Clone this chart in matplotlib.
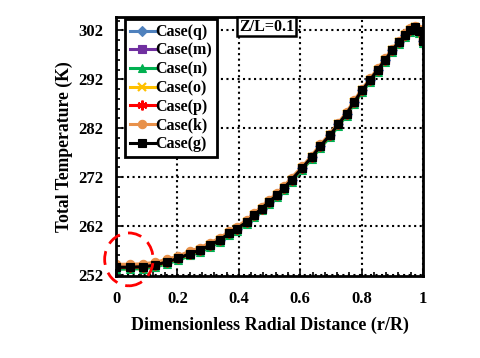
import matplotlib
matplotlib.use("Agg")
import matplotlib.pyplot as plt
from matplotlib.patches import Ellipse
from matplotlib.ticker import AutoMinorLocator

plt.rcParams['font.family'] = ['Liberation Serif', 'DejaVu Serif']
plt.rcParams['font.weight'] = 'bold'

# ---- data ----
r = [0.0, 0.046, 0.087, 0.127, 0.165, 0.203, 0.241, 0.274, 0.306, 0.339,
     0.368, 0.395, 0.426, 0.451, 0.474, 0.499, 0.523, 0.546, 0.572, 0.607,
     0.637, 0.666, 0.697, 0.724, 0.751, 0.776, 0.802, 0.828, 0.853, 0.877,
     0.899, 0.921, 0.941, 0.958, 0.974, 0.988, 1.0]
T_base = [253.6, 253.6, 253.7, 254.0, 254.7, 255.4, 256.4, 257.1, 258.1, 259.2,
          260.5, 261.5, 262.9, 264.3, 265.6, 267.0, 268.3, 269.7, 271.5, 273.9,
          276.1, 278.4, 280.6, 282.8, 285.0, 287.4, 289.8, 291.9, 294.0, 296.0,
          297.9, 299.6, 301.0, 302.0, 302.6, 301.8, 299.8]
T_k = [254.2, 254.2, 254.3, 254.6, 255.2, 255.9, 256.9, 257.6, 258.6, 259.6,
       260.9, 261.9, 263.3, 264.7, 266.0, 267.4, 268.7, 270.1, 271.9, 274.2,
       276.4, 278.7, 280.9, 283.1, 285.3, 287.7, 290.1, 292.2, 294.3, 296.3,
       298.2, 299.9, 301.4, 302.4, 303.0, 302.2, 300.1]
T_n = [253.2, 253.2, 253.3, 253.6, 254.3, 255.0, 256.0, 256.7, 257.7, 258.8,
       260.1, 261.1, 262.5, 263.9, 265.2, 266.6, 267.9, 269.3, 271.1, 273.5,
       275.7, 278.0, 280.2, 282.4, 284.6, 287.0, 289.4, 291.5, 293.6, 295.6,
       297.5, 299.2, 300.6, 301.6, 302.2, 301.4, 299.4]
T_q = T_base
T_m = T_base
T_o = T_base
T_p = T_base
T_g = T_base

labels = ['Case(q)', 'Case(m)', 'Case(n)', 'Case(o)', 'Case(p)', 'Case(k)', 'Case(g)']
series = [T_q, T_m, T_n, T_o, T_p, T_k, T_g]
colors = ['#4f81bd', '#7030a0', '#00b050', '#ffc000', '#ff0000', '#e8914a', '#000000']
markers = ['D', 's', '^', 'x', (6, 2, 0), 'o', 's']
msizes = [5, 6, 6, 6, 7, 6, 5.5]

x_ticks = [0, 0.2, 0.4, 0.6, 0.8, 1]
x_ticklabels = ['0', '0.2', '0.4', '0.6', '0.8', '1']
y_ticks = [252, 262, 272, 282, 292, 302]

fig = plt.figure(figsize=(4.8, 3.58), dpi=100)
ax = fig.add_axes([0.2417, 0.229, 0.6396, 0.7243])

for T, lab, c, mk, ms in zip(series, labels, colors, markers, msizes):
    ax.plot(r, T, color=c, marker=mk, markersize=ms, linewidth=2.2,
            markeredgewidth=1.6 if mk in ('x', (6, 2, 0)) else 0.8,
            markeredgecolor=c, label=lab)

ax.set_xlim(0, 1)
ax.set_ylim(251.8, 304.8)
ax.set_xticks(x_ticks)
ax.set_xticklabels(x_ticklabels)
ax.set_yticks(y_ticks)
ax.xaxis.set_minor_locator(AutoMinorLocator(5))
ax.yaxis.set_minor_locator(AutoMinorLocator(5))
ax.tick_params(which='both', direction='in', top=False, right=False,
               labelsize=12, width=1.2)
ax.tick_params(which='major', length=5)
ax.tick_params(which='minor', length=3)
ax.tick_params(axis='y', pad=9)
ax.tick_params(axis='x', pad=11)
for lbl in ax.get_xticklabels() + ax.get_yticklabels():
    lbl.set_fontweight('bold')

ax.grid(True, which='major', color='black', linestyle=':', linewidth=1.5)
for s in ax.spines.values():
    s.set_linewidth(2)

ax.set_xlabel('Dimensionless Radial Distance (r/R)', fontsize=13,
              fontweight='bold', labelpad=7)
ax.set_ylabel('Total Temperature (K)', fontsize=12.7, fontweight='bold',
              labelpad=4)

leg = ax.legend(loc='upper left', bbox_to_anchor=(0.03, 0.99), fontsize=11.5,
                frameon=True, fancybox=False, handlelength=1.55,
                handletextpad=0.05, labelspacing=0.17, borderpad=0.3,
                borderaxespad=0.0)
leg.get_frame().set_edgecolor('black')
leg.get_frame().set_linewidth(2)
leg.get_frame().set_alpha(1)
for t in leg.get_texts():
    t.set_fontweight('bold')

ax.text(0.49, 0.962, 'Z/L=0.1', transform=ax.transAxes, fontsize=11.5,
        fontweight='bold', ha='center', va='center',
        bbox=dict(boxstyle='square,pad=0.12', facecolor='white',
                  edgecolor='black', linewidth=1.8))

ell = Ellipse((0.042, 255.2), width=0.158, height=10.8, fill=False,
              edgecolor='red', linestyle=(0, (5, 3)), linewidth=2,
              clip_on=False, zorder=5)
ax.add_patch(ell)

fig.savefig('out.png', dpi=100)
